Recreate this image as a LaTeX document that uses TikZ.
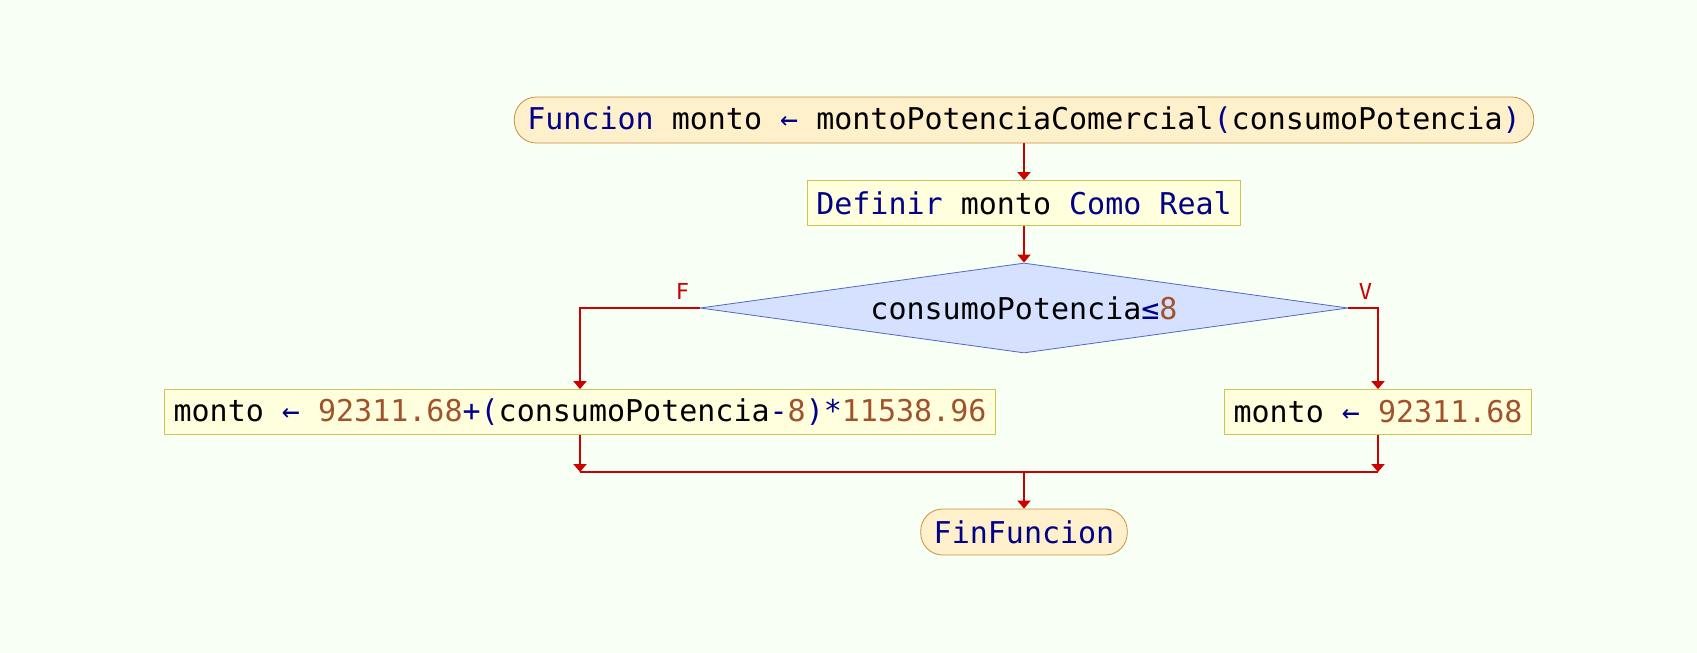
\documentclass[tikz,border=0pt]{standalone}
\usepackage{fontspec}
\setmonofont{DejaVu Sans Mono}
\usetikzlibrary{shapes.geometric,arrows.meta}
\definecolor{bgcol}{HTML}{F8FFF4}
\definecolor{kwcol}{HTML}{000088}
\definecolor{numcol}{HTML}{A0522D}
\definecolor{termfill}{HTML}{FFF0CC}
\definecolor{termdraw}{HTML}{C8903C}
\definecolor{procfill}{HTML}{FFFFDD}
\definecolor{procdraw}{HTML}{C8C850}
\definecolor{condfill}{HTML}{D5E1FF}
\definecolor{conddraw}{HTML}{5068C8}
\definecolor{flowcol}{HTML}{CC0000}
\newcommand{\kw}[1]{\textcolor{kwcol}{#1}}
\newcommand{\nm}[1]{\textcolor{numcol}{#1}}
\begin{document}
\begin{tikzpicture}[x=0.5pt,y=0.5pt,font=\ttfamily\fontsize{15}{18}\selectfont,>={Triangle[width=6.5pt,length=4pt]},
  term/.style={draw=termdraw,fill=termfill,rounded corners=11pt,minimum height=23pt,inner xsep=6.5pt,inner ysep=0pt},
  proc/.style={draw=procdraw,fill=procfill,minimum height=22.5pt,inner xsep=4.5pt,inner ysep=0pt},
  cond/.style={draw=conddraw,fill=condfill,diamond,aspect=7.2,inner sep=0pt,minimum width=324pt,minimum height=45pt},
  flow/.style={draw=flowcol,line width=1pt},
  lbl/.style={text=flowcol,font=\ttfamily\fontsize{11}{13}\selectfont,inner sep=1pt}]
\fill[bgcol] (0,0) rectangle (1697,-653);
\useasboundingbox (0,0) rectangle (1697,-653);
% nodes
\node[term] (start) at (1024,-120) {\kw{Funcion} monto \kw{←} montoPotenciaComercial\kw{(}consumoPotencia\kw{)}};
\node[proc] (define) at (1024,-203) {\kw{Definir} monto \kw{Como} \kw{Real}};
\node[cond] (cond) at (1024,-308) {consumoPotencia\kw{≤}\nm{8}};
\node[proc] (left) at (580,-412) {monto \kw{←} \nm{92311.68}\kw{+(}consumoPotencia\kw{-}\nm{8}\kw{)*}\nm{11538.96}};
\node[proc] (right) at (1378,-412) {monto \kw{←} \nm{92311.68}};
\node[term] (fin) at (1024,-532) {\kw{FinFuncion}};
\coordinate (join) at (1024,-472);
% connectors
\draw[flow,->] (start) -- (define);
\draw[flow,->] (define) -- (cond);
\draw[flow,->] (cond.west) -| (left);
\draw[flow,->] (cond.east) -| (right);
\node[lbl,anchor=south east] (lf) at ([xshift=-4pt,yshift=3pt]cond.west) {F};
\node[lbl,anchor=south west] (lv) at ([xshift=4pt,yshift=3pt]cond.east) {V};
\draw[flow,->] (left) -- (left |- join);
\draw[flow,->] (right) -- (right |- join);
\draw[flow] (left |- join) -- (right |- join);
\draw[flow,->] (join) -- (fin);
\end{tikzpicture}
\end{document}
